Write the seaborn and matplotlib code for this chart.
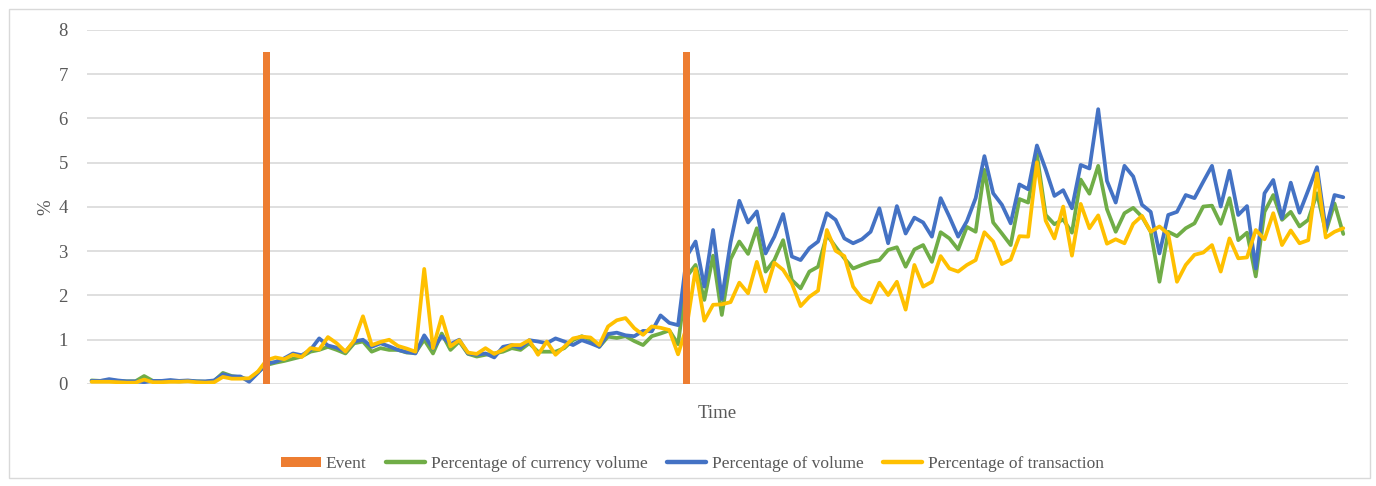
import numpy as np
import pandas as pd
import matplotlib
matplotlib.use("Agg")
import matplotlib.pyplot as plt
from matplotlib.lines import Line2D
from matplotlib.patches import Patch, Rectangle
import seaborn as sns

# ---- data (percent) --------------------------------------------------------
transaction = [
    0.05, 0.05, 0.05, 0.04, 0.03, 0.03, 0.10, 0.04, 0.04, 0.05,
    0.05, 0.06, 0.04, 0.03, 0.04, 0.16, 0.12, 0.12, 0.13, 0.28,
    0.54, 0.60, 0.56, 0.66, 0.61, 0.81, 0.78, 1.06, 0.92, 0.73,
    0.98, 1.53, 0.88, 0.95, 1.00, 0.86, 0.80, 0.73, 2.60, 0.81,
    1.52, 0.85, 0.99, 0.71, 0.68, 0.81, 0.68, 0.77, 0.88, 0.88,
    0.99, 0.66, 0.96, 0.66, 0.84, 1.03, 1.07, 1.05, 0.88, 1.30,
    1.44, 1.49, 1.26, 1.11, 1.30, 1.27, 1.22, 0.67, 1.30, 2.60,
    1.43, 1.79, 1.80, 1.85, 2.29, 2.05, 2.76, 2.09, 2.74, 2.58,
    2.27, 1.76, 1.97, 2.11, 3.48, 3.01, 2.89, 2.20, 1.94, 1.84,
    2.29, 2.01, 2.31, 1.68, 2.69, 2.20, 2.31, 2.89, 2.61, 2.54,
    2.69, 2.80, 3.43, 3.22, 2.71, 2.81, 3.34, 3.33, 5.01, 3.69,
    3.29, 4.01, 2.90, 4.07, 3.52, 3.81, 3.17, 3.27, 3.18, 3.62,
    3.80, 3.44, 3.56, 3.39, 2.31, 2.69, 2.92, 2.97, 3.14, 2.54,
    3.29, 2.84, 2.86, 3.48, 3.27, 3.86, 3.14, 3.47, 3.18, 3.25,
    4.76, 3.31, 3.44, 3.52,
]

volume = [
    0.07, 0.07, 0.11, 0.08, 0.06, 0.06, 0.04, 0.07, 0.07, 0.09,
    0.07, 0.08, 0.06, 0.06, 0.08, 0.22, 0.17, 0.17, 0.05, 0.25,
    0.46, 0.50, 0.58, 0.69, 0.65, 0.77, 1.03, 0.87, 0.82, 0.73,
    0.96, 1.00, 0.84, 0.92, 0.85, 0.77, 0.72, 0.69, 1.10, 0.80,
    1.08, 0.90, 1.00, 0.69, 0.66, 0.69, 0.60, 0.84, 0.88, 0.81,
    0.99, 0.96, 0.92, 1.03, 0.96, 0.88, 0.99, 0.92, 0.84, 1.13,
    1.16, 1.10, 1.08, 1.20, 1.19, 1.55, 1.38, 1.33, 2.89, 3.22,
    2.20, 3.48, 1.92, 3.20, 4.14, 3.65, 3.90, 2.95, 3.33, 3.84,
    2.88, 2.80, 3.07, 3.22, 3.86, 3.71, 3.29, 3.18, 3.27, 3.44,
    3.97, 3.18, 4.02, 3.40, 3.76, 3.65, 3.33, 4.20, 3.78, 3.33,
    3.68, 4.20, 5.15, 4.31, 4.05, 3.63, 4.51, 4.40, 5.39, 4.85,
    4.25, 4.38, 3.97, 4.95, 4.87, 6.21, 4.59, 4.10, 4.93, 4.69,
    4.05, 3.89, 2.95, 3.82, 3.89, 4.27, 4.20, 4.57, 4.93, 4.01,
    4.82, 3.82, 4.02, 2.61, 4.31, 4.61, 3.74, 4.55, 3.87, 4.38,
    4.90, 3.50, 4.27, 4.22,
]

currency_volume = [
    0.08, 0.07, 0.08, 0.07, 0.06, 0.06, 0.18, 0.07, 0.07, 0.07,
    0.06, 0.07, 0.06, 0.05, 0.07, 0.25, 0.18, 0.15, 0.10, 0.27,
    0.43, 0.48, 0.52, 0.57, 0.62, 0.73, 0.77, 0.84, 0.77, 0.69,
    0.92, 0.96, 0.73, 0.81, 0.77, 0.77, 0.71, 0.71, 1.00, 0.69,
    1.14, 0.77, 0.96, 0.68, 0.62, 0.66, 0.69, 0.73, 0.81, 0.77,
    0.92, 0.73, 0.73, 0.73, 0.81, 0.99, 1.08, 1.00, 0.84, 1.07,
    1.04, 1.08, 0.97, 0.88, 1.08, 1.14, 1.21, 0.90, 2.43, 2.69,
    1.90, 2.90, 1.56, 2.82, 3.22, 2.94, 3.52, 2.54, 2.80, 3.25,
    2.35, 2.16, 2.54, 2.65, 3.37, 3.10, 2.84, 2.61, 2.69, 2.76,
    2.80, 3.03, 3.09, 2.65, 3.04, 3.14, 2.76, 3.43, 3.29, 3.04,
    3.55, 3.44, 4.84, 3.65, 3.40, 3.14, 4.18, 4.10, 5.19, 3.82,
    3.61, 3.72, 3.42, 4.62, 4.30, 4.93, 3.95, 3.44, 3.86, 3.98,
    3.78, 3.44, 2.31, 3.44, 3.34, 3.52, 3.63, 4.01, 4.03, 3.62,
    4.20, 3.25, 3.42, 2.43, 3.89, 4.27, 3.71, 3.89, 3.56, 3.71,
    4.31, 3.44, 4.08, 3.39,
]

# periods at which an event occurred, and the height of the event marker
event_periods = [20, 68]
event_height = [7.5, 7.5]

series_names = ["Percentage of currency volume",
                "Percentage of volume",
                "Percentage of transaction"]
series_colors = ["#70AD47", "#4472C4", "#FFC000"]
event_color = "#ED7D31"
text_color = "#595959"
grid_color = "#D9D9D9"

# ---- long-format table for seaborn ----------------------------------------
n = len(transaction)
period = np.arange(n)
df = pd.concat([
    pd.DataFrame({"period": period, "pct": currency_volume, "series": series_names[0]}),
    pd.DataFrame({"period": period, "pct": volume, "series": series_names[1]}),
    pd.DataFrame({"period": period, "pct": transaction, "series": series_names[2]}),
], ignore_index=True)

# ---- figure ----------------------------------------------------------------
sns.set_theme(style="white")
plt.rcParams["font.family"] = ["Liberation Serif", "DejaVu Serif"]

fig = plt.figure(figsize=(13.76, 4.86), dpi=100)
ax = fig.add_axes([0.0634, 0.2099, 0.916, 0.7284])

sns.lineplot(data=df, x="period", y="pct", hue="series",
             hue_order=series_names, palette=series_colors,
             linewidth=2.7, legend=False, ax=ax, zorder=3,
             solid_joinstyle="round", solid_capstyle="round")

ax.bar(event_periods, event_height, width=0.78, color=event_color,
       linewidth=0, zorder=4)

ax.set_xlim(-0.5, n - 0.5)
ax.set_ylim(0, 8)
ax.set_yticks(range(0, 9))
ax.set_xticks([])
ax.yaxis.grid(True, color=grid_color, linewidth=1.2, zorder=0)
ax.set_axisbelow(True)
for s in ax.spines.values():
    s.set_visible(False)
ax.tick_params(axis="y", length=0, pad=14, labelsize=13.5, labelcolor=text_color)

ax.set_ylabel("%", fontsize=13.5, color=text_color, labelpad=3)
ax.set_xlabel("Time", fontsize=13.5, color=text_color, labelpad=15)

handles = [Patch(facecolor=event_color, edgecolor="none", label="Event")]
handles += [Line2D([0], [0], color=c, linewidth=3.2, solid_capstyle="round", label=nm)
            for nm, c in zip(series_names, series_colors)]
leg = fig.legend(handles=handles, loc="center", bbox_to_anchor=(0.503, 0.045),
                 ncol=4, frameon=False, fontsize=12.5, handlelength=2.3,
                 handleheight=0.55, handletextpad=0.3, columnspacing=1.1)
for t in leg.get_texts():
    t.set_color(text_color)

# chart-area border
fig.patches.append(Rectangle((0.0065, 0.0165), 0.989, 0.965, transform=fig.transFigure,
                             fill=False, edgecolor=grid_color, linewidth=1.0))

fig.savefig("out.png", dpi=100)
